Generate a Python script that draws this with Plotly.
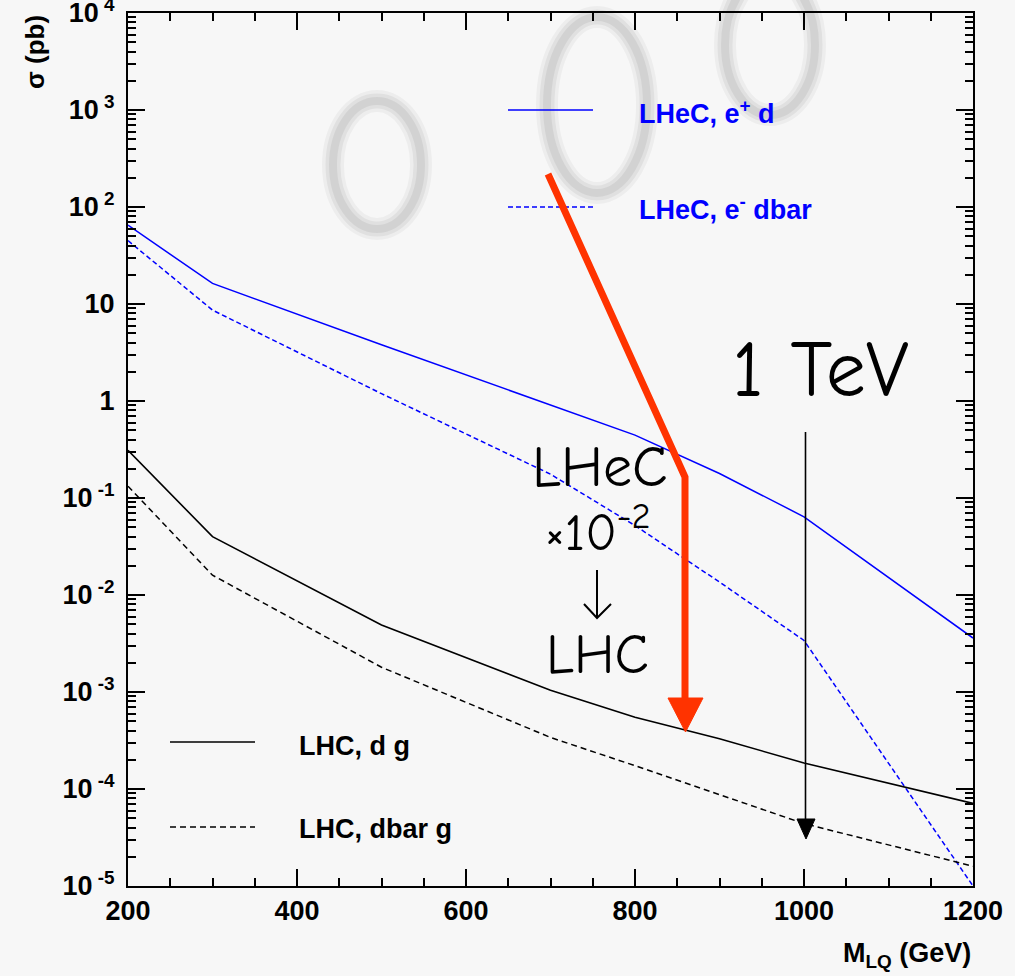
import plotly.graph_objects as go

# ---- data ----
mass = [200, 300, 500, 700, 800, 900, 1000, 1200]
lhec_ep_d = [65, 16.3, 3.8, 0.91, 0.445, 0.179, 0.064, 0.0036]
lhec_em_dbar = [45, 8.65, 1.19, 0.176, 0.052, 0.0136, 0.0034, 1.0e-5]
lhc_dg = [0.31, 0.040, 0.0049, 0.00104, 0.00055, 0.00033, 0.000185, 0.000071]
lhc_dbarg = [0.1325, 0.016, 0.0018, 0.00034, 0.000174, 0.000088, 0.000044, 0.000016]

y_tickvals = [1e4, 1e3, 1e2, 10, 1, 1e-1, 1e-2, 1e-3, 1e-4, 1e-5]
y_ticktext = ["<b>10</b><sup><b> 4</b></sup>", "<b>10</b><sup><b> 3</b></sup>",
              "<b>10</b><sup><b> 2</b></sup>", "<b>10</b>", "<b>1</b>",
              "<b>10</b><sup><b> -1</b></sup>", "<b>10</b><sup><b> -2</b></sup>",
              "<b>10</b><sup><b> -3</b></sup>", "<b>10</b><sup><b> -4</b></sup>",
              "<b>10</b><sup><b> -5</b></sup>"]
x_tickvals = [200, 400, 600, 800, 1000, 1200]
x_ticktext = ["<b>%d</b>" % v for v in x_tickvals]

BLUE = "#0000ff"
RED = "#ff3300"
BG = "#f7f7f7"
FONT = "Liberation Sans, Arial, sans-serif"
HAND = "Comic Sans MS, Comic Neue, Lato, sans-serif"

fig = go.Figure()
fig.add_trace(go.Scatter(x=mass, y=lhec_ep_d, mode="lines",
                         line=dict(color=BLUE, width=1.5), showlegend=False))
fig.add_trace(go.Scatter(x=mass, y=lhec_em_dbar, mode="lines",
                         line=dict(color=BLUE, width=1.5, dash="5px,3px"), showlegend=False))
fig.add_trace(go.Scatter(x=mass, y=lhc_dg, mode="lines",
                         line=dict(color="black", width=1.6), showlegend=False))
fig.add_trace(go.Scatter(x=mass, y=lhc_dbarg, mode="lines",
                         line=dict(color="black", width=1.5, dash="6px,4px"), showlegend=False))

L, R, T, B = 128, 973, 13, 886
W, H = R - L, B - T


def px(xp):
    return (xp - L) / W


def py(yp):
    return (B - yp) / H


shapes = []
annotations = []

# faint blurred background rings (watermark photo), stacked to look soft
for cx, cy, rx, ry in [(377, 165, 44, 64), (597, 105, 50, 88), (770, 45, 45, 70)]:
    for w, a in [(22, 0.04), (15, 0.05), (8, 0.06)]:
        shapes.append(dict(type="circle", xref="paper", yref="paper", layer="below",
                           x0=px(cx - rx), x1=px(cx + rx), y0=py(cy + ry), y1=py(cy - ry),
                           line=dict(color="rgba(0,0,0,%.3f)" % a, width=w)))

# legend samples
legend = [
    (508, 593, 110, BLUE, "solid", 637, 112, "LHeC, e<sup>+</sup> d", BLUE),
    (508, 593, 207, BLUE, "5px,3px", 637, 208, "LHeC, e<sup>-</sup> dbar", BLUE),
    (170, 255, 742, "black", "solid", 297, 746, "LHC, d g", "black"),
    (170, 255, 827, "black", "6px,4px", 297, 829, "LHC, dbar g", "black"),
]
for x0, x1, yy, col, dash, tx, ty, txt, tcol in legend:
    shapes.append(dict(type="line", xref="paper", yref="paper",
                       x0=px(x0), x1=px(x1), y0=py(yy), y1=py(yy),
                       line=dict(color=col, width=1.5, dash=dash)))
    annotations.append(dict(xref="paper", yref="paper", x=px(tx), y=py(ty),
                            xanchor="left", yanchor="middle", showarrow=False,
                            text="<b>%s</b>" % txt,
                            font=dict(family=FONT, size=27, color=tcol)))

# red arrow
shapes.append(dict(type="path", xref="paper", yref="paper",
                   path="M %f %f L %f %f L %f %f" % (px(548), py(174), px(685), py(477), px(685), py(702)),
                   line=dict(color=RED, width=7)))
shapes.append(dict(type="path", xref="paper", yref="paper",
                   path="M %f %f L %f %f L %f %f Z" % (px(668), py(698), px(703), py(698), px(685.5), py(732)),
                   fillcolor=RED, line=dict(color=RED, width=1)))

# 1 TeV arrow
shapes.append(dict(type="line", xref="paper", yref="paper",
                   x0=px(805.5), x1=px(805.5), y0=py(432), y1=py(822),
                   line=dict(color="black", width=1.6)))
shapes.append(dict(type="path", xref="paper", yref="paper",
                   path="M %f %f L %f %f L %f %f Z" % (px(797), py(819), px(815), py(819), px(806), py(839)),
                   fillcolor="black", line=dict(color="black", width=1)))

# small hand-drawn down arrow
shapes.append(dict(type="path", xref="paper", yref="paper",
                   path="M %f %f L %f %f M %f %f L %f %f L %f %f" % (
                       px(597), py(570), px(597), py(618),
                       px(584), py(604), px(597), py(618), px(611), py(604)),
                   line=dict(color="black", width=2)))

# handwritten texts
for txt, xx, yy, sz in [("1 TeV", 820, 370, 80), ("LHeC", 600, 468, 58),
                        ("×10<sup>-2</sup>", 597, 529, 52), ("LHC", 597, 655, 56)]:
    annotations.append(dict(xref="paper", yref="paper", x=px(xx), y=py(yy),
                            xanchor="center", yanchor="middle", showarrow=False,
                            text=txt, font=dict(family=HAND, size=sz, color="black")))

# axis titles
annotations.append(dict(xref="paper", yref="paper", x=px(35), y=py(52),
                        xanchor="center", yanchor="middle", showarrow=False, textangle=-90,
                        text="<b>σ (pb)</b>", font=dict(family=FONT, size=26, color="black")))
annotations.append(dict(xref="paper", yref="paper", x=px(973), y=py(955),
                        xanchor="right", yanchor="middle", showarrow=False,
                        text="<b>M<sub>LQ</sub> (GeV)</b>", font=dict(family=FONT, size=27, color="black")))

y_minor = [m * 10.0 ** e for e in range(-5, 4) for m in range(2, 10)]

fig.update_layout(
    width=1015, height=976,
    margin=dict(l=L, r=1015 - R, t=T, b=976 - B),
    paper_bgcolor=BG, plot_bgcolor=BG,
    showlegend=False,
    shapes=shapes, annotations=annotations,
    xaxis=dict(range=[200, 1200], tickvals=x_tickvals, ticktext=x_ticktext,
               ticks="inside", ticklen=17, tickwidth=1.5, tickcolor="black",
               showline=True, linecolor="black", linewidth=2, mirror="ticks",
               showgrid=False, zeroline=False, ticklabeloverflow="allow",
               automargin=False,
               tickfont=dict(family=FONT, size=27, color="black"),
               minor=dict(dtick=50, ticks="inside", ticklen=8, tickwidth=1.5,
                          tickcolor="black", showgrid=False)),
    yaxis=dict(type="log", range=[-5, 4], tickvals=y_tickvals, ticktext=y_ticktext,
               ticks="inside", ticklen=17, tickwidth=1.5, tickcolor="black",
               showline=True, linecolor="black", linewidth=2, mirror="ticks",
               showgrid=False, zeroline=False, ticklabeloverflow="allow",
               automargin=False, ticklabelstandoff=6,
               tickfont=dict(family=FONT, size=27, color="black"),
               minor=dict(tickvals=y_minor, ticks="inside", ticklen=8, tickwidth=1.5,
                          tickcolor="black", showgrid=False)),
)

fig.write_html("out.html", config={"displayModeBar": False},
               post_script="document.body.style.margin='0px';document.body.style.overflow='hidden';")
